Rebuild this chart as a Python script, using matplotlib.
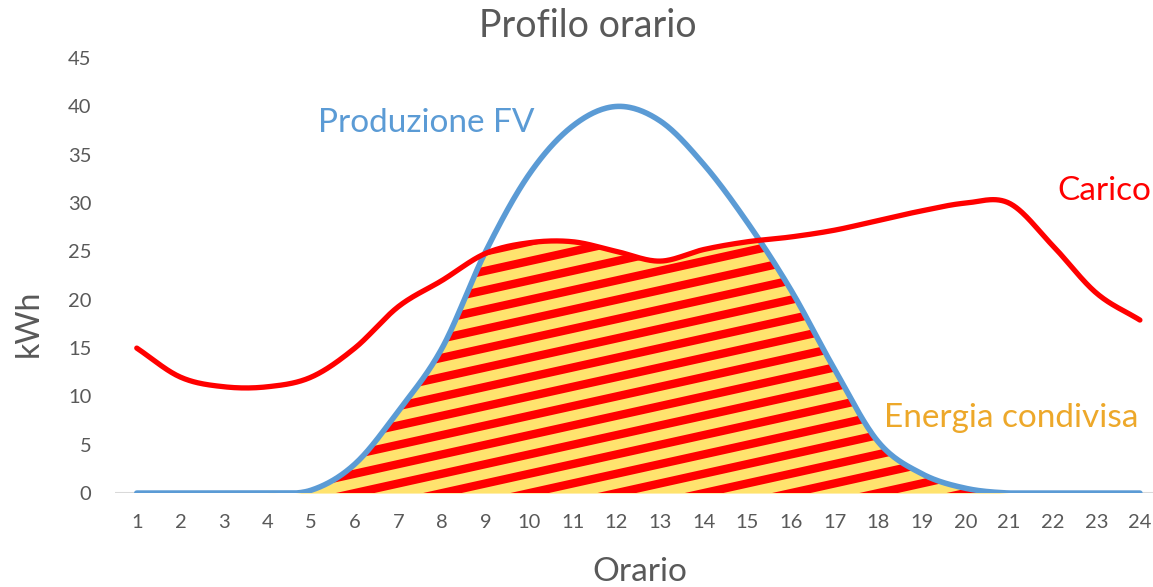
import numpy as np
import matplotlib
matplotlib.use("Agg")
import matplotlib.pyplot as plt

hours = list(range(1, 25))
produzione_fv = [0, 0, 0, 0, 0.3, 3, 8.5, 15, 25, 33, 38, 40, 38.5, 34, 28, 21, 12.8, 5.3, 2, 0.5, 0, 0, 0, 0]
carico = [15, 12, 11, 11, 12, 15, 19.3, 22, 24.8, 25.9, 26, 25, 24, 25.2, 26, 26.5, 27.2, 28.2, 29.2, 30, 30, 25.6, 20.7, 17.9]
x_ticks = [str(h) for h in hours]
y_ticks = list(range(0, 50, 5))

TXT = "#595959"
BLUE = "#5B9BD5"
RED = "#FF0000"
YEL = "#FFE36E"
ORANGE = "#EDA82A"
FONT = ["Lato", "DejaVu Sans"]
plt.rcParams["font.family"] = FONT


def smooth(x, y, n=30):
    x = np.asarray(x, float)
    y = np.asarray(y, float)
    px = np.concatenate([[2 * x[0] - x[1]], x, [2 * x[-1] - x[-2]]])
    py = np.concatenate([[2 * y[0] - y[1]], y, [2 * y[-1] - y[-2]]])
    xs, ys = [], []
    t = np.linspace(0, 1, n, endpoint=False)
    for i in range(1, len(px) - 2):
        def cr(a0, a1, a2, a3):
            return 0.5 * ((2 * a1) + (-a0 + a2) * t + (2 * a0 - 5 * a1 + 4 * a2 - a3) * t ** 2
                          + (-a0 + 3 * a1 - 3 * a2 + a3) * t ** 3)
        xs.append(cr(px[i - 1], px[i], px[i + 1], px[i + 2]))
        ys.append(cr(py[i - 1], py[i], py[i + 1], py[i + 2]))
    xs.append([x[-1]])
    ys.append([y[-1]])
    return np.concatenate(xs), np.concatenate(ys)


fig = plt.figure(figsize=(11.53, 5.87), dpi=100)
ax = fig.add_axes([0.0997, 0.160, 0.9003, 0.741])

sx, sfv = smooth(hours, produzione_fv)
_, scar = smooth(hours, carico)
sfv = np.clip(sfv, 0, None)
shared = np.minimum(sfv, scar)

poly = ax.fill_between(sx, 0, shared, color=YEL, linewidth=0, zorder=1)
clip_path = poly.get_paths()[0]
for c in np.arange(-30, 30, 2.0):
    xx = np.array([0, 25])
    ln, = ax.plot(xx, xx + c, color=RED, lw=6.0, solid_capstyle="round", zorder=2)
    ln.set_clip_path(clip_path, ax.transData)

ax.axhline(0, color="#D9D9D9", lw=1.5, zorder=0.5)
ax.plot(sx, sfv, color=BLUE, lw=4.0, solid_capstyle="round", zorder=3)
ax.plot(sx, scar, color=RED, lw=3.8, solid_capstyle="round", zorder=4)

ax.set_xlim(0.5, 24.3)
ax.set_ylim(0, 45)
ax.set_xticks(hours)
ax.set_xticklabels(x_ticks)
ax.set_yticks(y_ticks)
ax.tick_params(axis="both", length=0, colors=TXT, labelsize=14.5)
ax.tick_params(axis="x", pad=15, labelsize=14.5)
ax.tick_params(axis="y", pad=17)
for s in ax.spines.values():
    s.set_visible(False)

fig.text(0.510, 0.955, "Profilo orario", ha="center", va="center", fontsize=27, color=TXT)
fig.text(0.025, 0.45, "kWh", ha="center", va="center", rotation=90, fontsize=23, color=TXT)
fig.text(0.555, 0.026, "Orario", ha="center", va="center", fontsize=24, color=TXT)

ax.text(5.15, 38.3, "Produzione FV", ha="left", va="center", fontsize=24, color=BLUE)
ax.text(22.1, 31.3, "Carico", ha="left", va="center", fontsize=24, color=RED)
ax.text(18.13, 7.8, "Energia condivisa", ha="left", va="center", fontsize=24, color=ORANGE)

fig.savefig("out.png", dpi=100)
